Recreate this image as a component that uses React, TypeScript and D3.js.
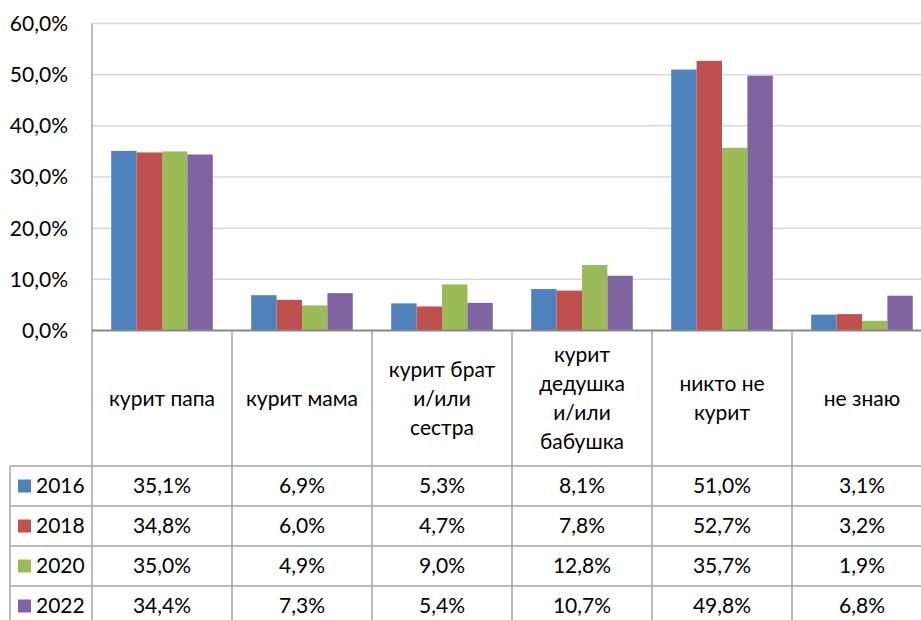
import React from "react";
import * as d3 from "d3";

const categories = ["курит папа", "курит мама", "курит брат и/или сестра", "курит дедушка и/или бабушка", "никто не курит", "не знаю"];
const categoryLines = [["курит папа"], ["курит мама"], ["курит брат", "и/или", "сестра"], ["курит", "дедушка", "и/или", "бабушка"], ["никто не", "курит"], ["не знаю"]];
const years = ["2016", "2018", "2020", "2022"];
const v2016 = [0.351, 0.069, 0.053, 0.081, 0.510, 0.031];
const v2018 = [0.348, 0.060, 0.047, 0.078, 0.527, 0.032];
const v2020 = [0.350, 0.049, 0.090, 0.128, 0.357, 0.019];
const v2022 = [0.344, 0.073, 0.054, 0.107, 0.498, 0.068];
const yTicks = [0, 0.1, 0.2, 0.3, 0.4, 0.5, 0.6];
const colors = ["#4F81BD", "#C0504D", "#9BBB59", "#8064A2"];

const series = [v2016, v2018, v2020, v2022];
const loc = d3.formatLocale({ decimal: ",", thousands: " ", grouping: [3], currency: ["", ""] });
const fmt = loc.format(".1%");

export default function App() {
  const W = 921, H = 620;
  const left = 92, top = 23.5, base = 330.5;
  const x0 = d3.scaleBand().domain(categories).range([left, left + 140 * 6]).paddingInner(0).paddingOuter(0);
  const x1 = d3.scaleBand().domain(years).range([0, x0.bandwidth()]).paddingInner(0).paddingOuter(0.756);
  const y = d3.scaleLinear().domain([0, 0.6]).range([base, top]);
  const headerBottom = 466;
  const rowH = 40;
  const tableLeft = 10;
  const font = "Lato, 'Open Sans', sans-serif";
  const fs = 21;
  const lineColor = "#a6a6a6";
  const right = left + 140 * 6;
  return (
    <svg width={W} height={H} style={{ position: "absolute", left: 0, top: 0, background: "#fff" }} fontFamily={font}>
      <rect x={0} y={0} width={W} height={H} fill="#fff" />
      {yTicks.map((t) => (
        <g key={t}>
          {t > 0 && <line x1={left} x2={right} y1={y(t)} y2={y(t)} stroke="#d9d9d9" strokeWidth={1.5} />}
          <text x={68} y={y(t)} dy="0.35em" textAnchor="end" fontSize={fs} fill="#000">{fmt(t)}</text>
        </g>
      ))}
      {series.map((vals, si) =>
        categories.map((c, ci) => (
          <rect key={si + "-" + ci} x={(x0(c) as number) + (x1(years[si]) as number)} y={y(vals[ci])} width={x1.bandwidth()} height={base - y(vals[ci])} fill={colors[si]} />
        ))
      )}
      <line x1={left} x2={left} y1={top} y2={H} stroke={lineColor} strokeWidth={1.5} />
      {categories.map((c, ci) => (
        <line key={c} x1={(x0(c) as number) + 140} x2={(x0(c) as number) + 140} y1={base} y2={H} stroke={lineColor} strokeWidth={1.5} />
      ))}
      {years.map((yr, i) => (
        <line key={yr} x1={tableLeft} x2={right} y1={headerBottom + i * rowH} y2={headerBottom + i * rowH} stroke={lineColor} strokeWidth={1.5} />
      ))}
      <line x1={tableLeft} x2={right} y1={headerBottom + 4 * rowH} y2={headerBottom + 4 * rowH} stroke={lineColor} strokeWidth={1.5} />
      <line x1={tableLeft} x2={tableLeft} y1={headerBottom} y2={H} stroke={lineColor} strokeWidth={1.5} />
      <line x1={left} x2={right} y1={base} y2={base} stroke="#868686" strokeWidth={2} />
      {categories.map((c, ci) => {
        const lines = categoryLines[ci];
        const lh = 29;
        const cy = (base + headerBottom) / 2;
        const y0 = cy - ((lines.length - 1) * lh) / 2;
        return (
          <text key={c} x={(x0(c) as number) + 70} textAnchor="middle" fontSize={fs} fill="#000">
            {lines.map((l, li) => (
              <tspan key={li} x={(x0(c) as number) + 70} y={y0 + li * lh} dy="0.35em">{l}</tspan>
            ))}
          </text>
        );
      })}
      {years.map((yr, si) => {
        const ry = headerBottom + si * rowH + rowH / 2;
        return (
          <g key={yr}>
            <rect x={18} y={ry - 6.5} width={13} height={13} fill={colors[si]} />
            <text x={36} y={ry} dy="0.35em" fontSize={fs} fill="#000">{yr}</text>
            {categories.map((c, ci) => (
              <text key={c} x={(x0(c) as number) + 70} y={ry} dy="0.35em" textAnchor="middle" fontSize={fs} fill="#000">{fmt(series[si][ci])}</text>
            ))}
          </g>
        );
      })}
    </svg>
  );
}
